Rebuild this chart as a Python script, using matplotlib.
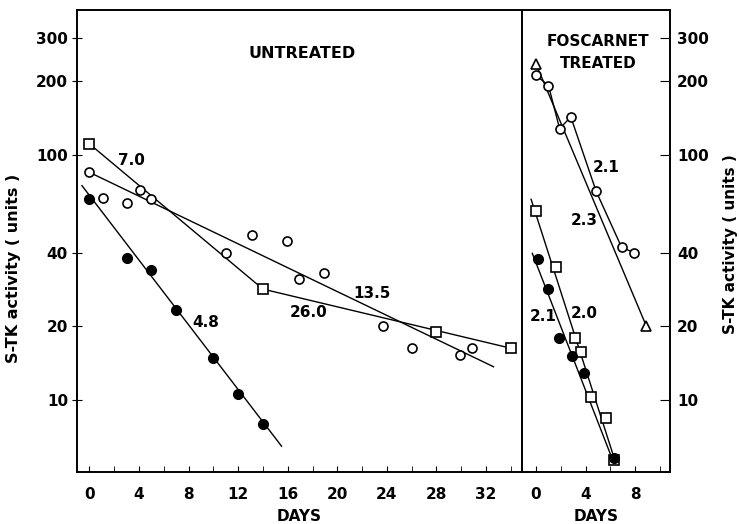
import numpy as np
import matplotlib.pyplot as plt

# ---- Untreated panel data (days, S-TK units) ----
u_filled_days = [0, 3, 5, 7, 10, 12, 14]
u_filled_vals = [66, 38, 34, 23.3, 14.9, 10.6, 8.0]
u_filled_fit_days = [-0.6, 15.5]
u_filled_fit_vals = [75, 6.5]

u_open_days = [0, 1.1, 3, 4.1, 5, 11, 13.1, 15.9, 16.9, 18.9, 23.7, 26, 29.9, 30.9]
u_open_vals = [85, 66.5, 63.5, 71.8, 66, 40, 47, 44.7, 31.1, 33.1, 20.1, 16.3, 15.3, 16.3]
u_open_fit_days = [0, 32.6]
u_open_fit_vals = [85, 13.7]

u_sq_days = [0, 14, 28, 34]
u_sq_vals = [111, 28.4, 18.9, 16.3]
u_sq_line_days = [0, 14, 34]
u_sq_line_vals = [111, 28.4, 16.3]

# ---- Foscarnet treated panel data ----
t_open_days = [0, 1, 1.9, 2.8, 4.85, 6.9, 7.9]
t_open_vals = [211, 192, 128, 143, 71, 42, 40]

t_tri_days = [0, 8.9]
t_tri_vals = [235, 20]

t_sq_days = [0, 1.6, 3.1, 3.6, 4.45, 5.65, 6.3]
t_sq_vals = [59, 35, 17.9, 15.7, 10.3, 8.5, 5.7]
t_sq_fit_days = [-0.4, 6.45]
t_sq_fit_vals = [66, 5.5]

t_filled_days = [0.15, 1.0, 1.85, 2.9, 3.85, 6.3]
t_filled_vals = [37.5, 28.4, 18.0, 15.1, 12.9, 5.8]
t_filled_fit_days = [-0.3, 6.3]
t_filled_fit_vals = [39.7, 5.5]

y_ticks = [10, 20, 40, 100, 200, 300]

plt.rcParams['font.family'] = 'DejaVu Sans'
plt.rcParams['font.weight'] = 'bold'

fig = plt.figure(figsize=(7.39, 5.24), dpi=100)
ax1 = fig.add_axes([0.1042, 0.0992, 0.6022, 0.8817])
ax2 = fig.add_axes([0.7064, 0.0992, 0.2003, 0.8817])

line_kw = dict(color='black', linewidth=1.0)
open_c = dict(marker='o', ms=6.5, mfc='white', mec='black', mew=1.2, ls='none', zorder=3)
fill_c = dict(marker='o', ms=7, mfc='black', mec='black', ls='none', zorder=3)
open_s = dict(marker='s', ms=6.5, mfc='white', mec='black', mew=1.2, ls='none', zorder=3)
open_t = dict(marker='^', ms=7, mfc='white', mec='black', mew=1.2, ls='none', zorder=3)

# Untreated
ax1.plot(u_filled_fit_days, u_filled_fit_vals, **line_kw)
ax1.plot(u_filled_days, u_filled_vals, **fill_c)
ax1.plot(u_open_fit_days, u_open_fit_vals, **line_kw)
ax1.plot(u_open_days, u_open_vals, **open_c)
ax1.plot(u_sq_line_days, u_sq_line_vals, **line_kw)
ax1.plot(u_sq_days, u_sq_vals, **open_s)

ax1.text(9.4, 20.8, '4.8', fontsize=11, fontweight='bold', ha='center', va='center')
ax1.text(3.4, 95, '7.0', fontsize=11, fontweight='bold', ha='center', va='center')
ax1.text(22.8, 27.3, '13.5', fontsize=11, fontweight='bold', ha='center', va='center')
ax1.text(17.7, 22.9, '26.0', fontsize=11, fontweight='bold', ha='center', va='center')
ax1.text(17.2, 260, 'UNTREATED', fontsize=11.5, fontweight='bold', ha='center', va='center')

# Foscarnet treated
ax2.plot(t_open_days, t_open_vals, **line_kw)
ax2.plot(t_open_days, t_open_vals, **open_c)
ax2.plot(t_tri_days, t_tri_vals, **line_kw)
ax2.plot(t_tri_days, t_tri_vals, **open_t)
ax2.plot(t_sq_fit_days, t_sq_fit_vals, **line_kw)
ax2.plot(t_sq_days, t_sq_vals, **open_s)
ax2.plot(t_filled_fit_days, t_filled_fit_vals, **line_kw)
ax2.plot(t_filled_days, t_filled_vals, **fill_c)

ax2.text(5.65, 89, '2.1', fontsize=11, fontweight='bold', ha='center', va='center')
ax2.text(3.9, 54, '2.3', fontsize=11, fontweight='bold', ha='center', va='center')
ax2.text(3.9, 22.6, '2.0', fontsize=11, fontweight='bold', ha='center', va='center')
ax2.text(0.6, 22, '2.1', fontsize=11, fontweight='bold', ha='center', va='center')
ax2.text(5.0, 290, 'FOSCARNET', fontsize=11, fontweight='bold', ha='center', va='center')
ax2.text(5.0, 236, 'TREATED', fontsize=11, fontweight='bold', ha='center', va='center')

for ax in (ax1, ax2):
    ax.set_yscale('log')
    ax.set_ylim(5.1, 390)
    ax.set_yticks(y_ticks)
    ax.set_yticklabels([str(t) for t in y_ticks])
    ax.yaxis.set_minor_locator(plt.NullLocator())
    ax.set_xlabel('DAYS', fontsize=11, fontweight='bold', labelpad=5)
    ax.tick_params(axis='x', which='both', direction='in', length=4, pad=11,
                   labelsize=11, top=False)
    for s in ax.spines.values():
        s.set_linewidth(1.4)

ax1.set_xlim(-1, 34.9)
ax1.set_xticks(np.arange(0, 33, 4))
ax1.set_xticks(np.arange(0, 35, 2), minor=True)
ax1.tick_params(axis='y', direction='inout', length=7, pad=3, labelsize=11)
ax1.set_ylabel('S-TK activity ( units )', fontsize=11.5, fontweight='bold')
ax1.yaxis.set_label_coords(-0.125, 0.44)

ax2.set_xlim(-1.13, 10.8)
ax2.set_xticks([0, 4, 8])
ax2.set_xticks(np.arange(0, 11, 2), minor=True)
ax2.yaxis.tick_right()
ax2.tick_params(axis='y', direction='in', length=7, pad=5, labelsize=11,
                left=False, right=True)
ax2.yaxis.set_label_position('right')
ax2.set_ylabel('S-TK activity ( units )', fontsize=11, fontweight='bold', rotation=90)
ax2.yaxis.set_label_coords(1.36, 0.494)

fig.savefig('out.png', dpi=100)
